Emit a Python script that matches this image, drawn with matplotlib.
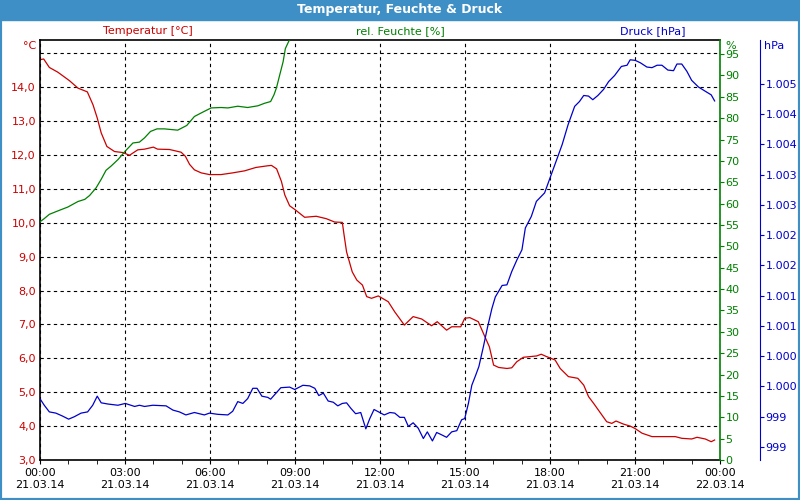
import matplotlib
matplotlib.use('Agg')
import matplotlib.pyplot as plt
from matplotlib.patches import Rectangle
from matplotlib.ticker import FuncFormatter, FixedLocator, MultipleLocator

# Messwerte 21.03.14 (Stunden seit 00:00)
temp_h = [0, 0.13, 0.33, 0.63, 1.04, 1.34, 1.67, 1.87, 2.02, 2.16, 2.36, 2.63, 2.92, 3.16, 3.45, 3.69,
          4.0, 4.15, 4.57, 4.98, 5.13, 5.28, 5.45, 5.69, 5.98, 6.39, 6.8, 7.22, 7.62, 8.04, 8.17, 8.35,
          8.52, 8.64, 8.81, 9.01, 9.34, 9.75, 10.1, 10.4, 10.67, 10.73, 10.82, 11.02, 11.18, 11.38,
          11.53, 11.7, 11.94, 12.29, 12.52, 12.86, 13.17, 13.47, 13.82, 14.02, 14.35, 14.53, 14.85,
          14.99, 15.17, 15.47, 15.7, 15.86, 16.01, 16.19, 16.48, 16.65, 16.83, 17.06, 17.53, 17.69,
          17.88, 18.18, 18.36, 18.65, 18.98, 19.19, 19.36, 19.54, 19.77, 20.0, 20.18, 20.33, 20.59,
          20.83, 21.0, 21.25, 21.6, 21.83, 22.42, 22.65, 23.0, 23.19, 23.48, 23.69, 23.81]
temp = [14.81, 14.83, 14.58, 14.44, 14.19, 13.97, 13.86, 13.48, 13.09, 12.65, 12.25, 12.1, 12.07, 11.99,
        12.15, 12.17, 12.23, 12.17, 12.16, 12.08, 11.96, 11.72, 11.56, 11.47, 11.42, 11.42, 11.47, 11.53,
        11.63, 11.68, 11.69, 11.59, 11.22, 10.82, 10.5, 10.38, 10.16, 10.19, 10.12, 10.02, 10.01, 9.65,
        9.14, 8.55, 8.31, 8.16, 7.82, 7.77, 7.84, 7.67, 7.37, 6.98, 7.23, 7.16, 6.96, 7.08, 6.83, 6.93,
        6.93, 7.18, 7.2, 7.08, 6.64, 6.34, 5.8, 5.73, 5.7, 5.72, 5.9, 6.03, 6.07, 6.12, 6.05, 5.95, 5.7,
        5.46, 5.41, 5.21, 4.87, 4.67, 4.4, 4.13, 4.08, 4.15, 4.06, 4.0, 3.93, 3.79, 3.69, 3.69, 3.69,
        3.64, 3.62, 3.67, 3.62, 3.54, 3.59]

hum_h = [0.01, 0.15, 0.33, 0.63, 0.98, 1.34, 1.58, 1.75, 1.98, 2.16, 2.33, 2.51, 2.75, 3.01, 3.28, 3.51,
         3.69, 3.9, 4.13, 4.39, 4.86, 5.18, 5.45, 5.74, 6.04, 6.39, 6.63, 6.98, 7.33, 7.69, 7.93, 8.14,
         8.26, 8.35, 8.46, 8.58, 8.66, 8.78, 8.9]
hum = [55.8, 56.5, 57.5, 58.3, 59.2, 60.5, 61.0, 61.9, 63.7, 65.7, 67.8, 68.8, 70.3, 72.3, 74.2, 74.4,
       75.4, 76.9, 77.5, 77.5, 77.2, 78.3, 80.4, 81.4, 82.4, 82.5, 82.4, 82.8, 82.5, 82.9, 83.5, 83.9,
       85.5, 87.2, 90.1, 93.2, 96.3, 98.0, 99.5]

pres_h = [0.01, 0.15, 0.33, 0.56, 0.8, 1.01, 1.21, 1.45, 1.68, 1.86, 2.02, 2.16, 2.4, 2.75, 3.01, 3.34,
          3.51, 3.69, 3.98, 4.45, 4.69, 4.92, 5.15, 5.45, 5.8, 5.98, 6.27, 6.63, 6.8, 6.98, 7.16, 7.33,
          7.51, 7.66, 7.83, 8.04, 8.14, 8.5, 8.81, 8.99, 9.28, 9.52, 9.7, 9.84, 10.0, 10.17, 10.35,
          10.51, 10.67, 10.82, 10.97, 11.14, 11.32, 11.5, 11.64, 11.79, 11.99, 12.15, 12.35, 12.52,
          12.7, 12.86, 13.0, 13.17, 13.35, 13.53, 13.67, 13.85, 14.0, 14.18, 14.35, 14.53, 14.71,
          14.88, 14.99, 15.12, 15.24, 15.38, 15.49, 15.65, 15.8, 15.95, 16.07, 16.31, 16.48, 16.65,
          16.83, 17.01, 17.13, 17.34, 17.52, 17.81, 17.98, 18.19, 18.43, 18.64, 18.87, 19.04, 19.19,
          19.36, 19.51, 19.69, 19.89, 20.07, 20.28, 20.52, 20.72, 20.83, 21.01, 21.19, 21.42, 21.6,
          21.78, 21.95, 22.16, 22.36, 22.48, 22.65, 22.83, 23.0, 23.24, 23.48, 23.69, 23.81]
pres = [999.54, 999.44, 999.33, 999.31, 999.26, 999.21, 999.25, 999.31, 999.33, 999.44, 999.59, 999.48,
        999.46, 999.44, 999.47, 999.42, 999.44, 999.42, 999.44, 999.43, 999.36, 999.33, 999.28, 999.32,
        999.28, 999.31, 999.29, 999.28, 999.34, 999.5, 999.47, 999.55, 999.72, 999.72, 999.59, 999.57,
        999.54, 999.73, 999.74, 999.7, 999.77, 999.76, 999.72, 999.6, 999.64, 999.51, 999.49, 999.43,
        999.47, 999.48, 999.39, 999.3, 999.32, 999.05, 999.22, 999.37, 999.32, 999.28, 999.32, 999.31,
        999.24, 999.24, 999.09, 999.15, 999.06, 998.89, 999.0, 998.85, 998.99, 998.95, 998.91, 999.0,
        999.02, 999.2, 999.22, 999.47, 999.77, 999.94, 1000.08, 1000.41, 1000.74, 1001.04, 1001.23,
        1001.42, 1001.43, 1001.65, 1001.84, 1002.01, 1002.37, 1002.56, 1002.81, 1002.95, 1003.17,
        1003.44, 1003.75, 1004.08, 1004.38, 1004.46, 1004.56, 1004.55, 1004.49, 1004.56, 1004.66,
        1004.79, 1004.89, 1005.04, 1005.06, 1005.15, 1005.14, 1005.1, 1005.03, 1005.02, 1005.06,
        1005.06, 1004.98, 1004.97, 1005.08, 1005.08, 1004.96, 1004.81, 1004.7, 1004.63, 1004.57,
        1004.47]

x_ticks = [0, 3, 6, 9, 12, 15, 18, 21, 24]
x_labels = ['00:00\n21.03.14', '03:00\n21.03.14', '06:00\n21.03.14', '09:00\n21.03.14',
            '12:00\n21.03.14', '15:00\n21.03.14', '18:00\n21.03.14', '21:00\n21.03.14',
            '00:00\n22.03.14']
temp_ticks = [3, 4, 5, 6, 7, 8, 9, 10, 11, 12, 13, 14, 15]
hum_ticks = list(range(0, 100, 5))
pres_ticks = [998.75 + 0.5 * i for i in range(13)]

RED = '#cc0000'
GREEN = '#008000'
BLUE = '#0000cc'
BAR = '#3d8fc6'

fig = plt.figure(figsize=(8, 5), dpi=100)
fig.patch.set_facecolor('white')

# Titelleiste und Rahmen
fig.patches.append(Rectangle((0, 0.96), 1, 0.04, transform=fig.transFigure, color=BAR, zorder=0))
fig.patches.append(Rectangle((0, 0), 1, 1, transform=fig.transFigure, fill=False,
                             edgecolor=BAR, linewidth=3, zorder=5))
fig.text(0.5, 0.98, 'Temperatur, Feuchte & Druck', color='white', fontsize=9,
         fontweight='bold', ha='center', va='center')

ax = fig.add_axes([0.05, 0.08, 0.85, 0.84])

# Temperatur
ax.plot(temp_h, temp, color=RED, linewidth=0.9)
ax.set_xlim(0, 24)
ax.set_ylim(3.0, 15.39)
ax.set_xticks(x_ticks)
ax.set_xticklabels(x_labels)
ax.xaxis.set_minor_locator(MultipleLocator(1))
ax.set_yticks(temp_ticks)
ax.set_yticklabels([f'{t:.1f}'.replace('.', ',') if t < 15 else '' for t in temp_ticks])
ax.grid(True, color='black', linestyle=(0, (3, 3)), linewidth=0.8)
ax.tick_params(axis='y', length=0, labelcolor=RED, labelsize=8, pad=3)
ax.tick_params(axis='x', which='both', direction='out', length=3, labelsize=8, pad=3)
ax.spines['right'].set_visible(False)
for s in ['left', 'top', 'bottom']:
    ax.spines[s].set_linewidth(1.2)

# Feuchte
ax_h = ax.twinx()
ax_h.plot(hum_h, hum, color=GREEN, linewidth=0.9)
ax_h.set_ylim(0, 98.3)
ax_h.yaxis.set_major_locator(FixedLocator(hum_ticks))
ax_h.tick_params(axis='y', direction='out', length=3, color=GREEN, labelcolor=GREEN,
                 labelsize=8, pad=1)
ax_h.spines['right'].set_color(GREEN)
ax_h.spines['right'].set_linewidth(1.2)
for s in ['left', 'top', 'bottom']:
    ax_h.spines[s].set_visible(False)

# Druck
ax_p = ax.twinx()
ax_p.plot(pres_h, pres, color=BLUE, linewidth=0.9)
ax_p.set_ylim(998.535, 1005.477)
ax_p.spines['right'].set_position(('axes', 1.0588))
ax_p.spines['right'].set_color(BLUE)
ax_p.yaxis.set_major_locator(FixedLocator(pres_ticks))
ax_p.yaxis.set_major_formatter(FuncFormatter(lambda v, p: f'{round(v):,}'.replace(',', '.')))
ax_p.tick_params(axis='y', direction='out', length=3, color=BLUE, labelcolor=BLUE,
                 labelsize=8, pad=1)
for s in ['left', 'top', 'bottom']:
    ax_p.spines[s].set_visible(False)

# Beschriftungen oben
fig.text(148 / 800, 1 - 31 / 500, 'Temperatur [°C]', color=RED, fontsize=8, ha='center', va='center')
fig.text(400 / 800, 1 - 31 / 500, 'rel. Feuchte [%]', color=GREEN, fontsize=8, ha='center', va='center')
fig.text(653 / 800, 1 - 31 / 500, 'Druck [hPa]', color=BLUE, fontsize=8, ha='center', va='center')
fig.text(36 / 800, 1 - 46 / 500, '°C', color=RED, fontsize=8, ha='right', va='center')
fig.text(725 / 800, 1 - 46 / 500, '%', color=GREEN, fontsize=8, ha='left', va='center')
fig.text(764 / 800, 1 - 46 / 500, 'hPa', color=BLUE, fontsize=8, ha='left', va='center')

fig.savefig('out.png', dpi=100)
